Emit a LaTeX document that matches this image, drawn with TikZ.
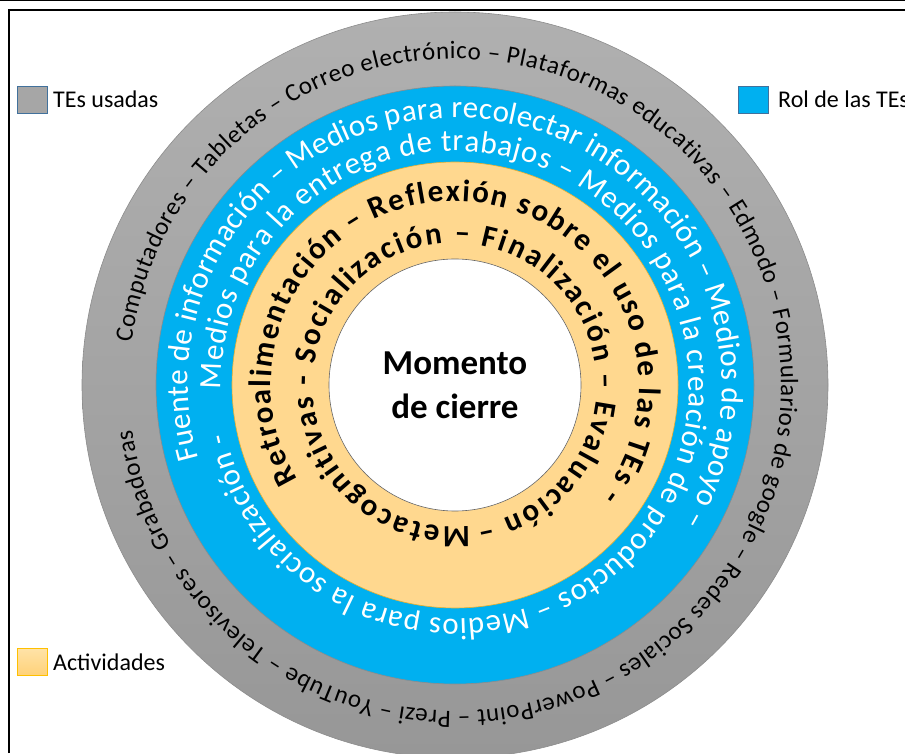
\documentclass[tikz,border=0pt]{standalone}
\usepackage{fontspec}
\setmainfont{Carlito}
\usetikzlibrary{decorations.text}
\definecolor{grayTop}{HTML}{B0B0B0}
\definecolor{grayBot}{HTML}{979797}
\definecolor{grayEdge}{HTML}{8C8C8C}
\definecolor{legGray}{HTML}{A6A6A6}
\definecolor{ringBlue}{HTML}{00B0F0}
\definecolor{ringOrange}{HTML}{FFD88F}
\definecolor{orangeEdge}{HTML}{E8B030}
\definecolor{legendEdge}{HTML}{41719C}
\definecolor{legOrTop}{HTML}{FFE3A8}
\definecolor{legOrBot}{HTML}{FFD27A}
\definecolor{legOrEdge}{HTML}{FFC000}
\tikzset{
  legendbox/.style={minimum width=30pt, minimum height=27pt, inner sep=0pt, line width=0.8pt},
  legendtext/.style={anchor=west, inner sep=0pt, font=\fontsize{24}{24}\selectfont},
  ringpath/.style={decorate, decoration={text along path, text align={fit to path}, #1}}
}
\begin{document}
\begin{tikzpicture}[x=1pt,y=1pt]
\useasboundingbox (0,0) rectangle (905,753);
% frame
\draw[line width=1.2pt] (0,752.5) -- (905,752.5);
\draw[line width=2pt] (9,0) -- (9,743) -- (905,743);
\coordinate (c) at (455,368);
% rings
\shade[top color=grayTop, bottom color=grayBot] (c) circle[radius=373];
\draw[grayEdge, line width=0.6pt] (c) circle[radius=373];
\fill[ringBlue] (c) circle[radius=299];
\draw[grayEdge, line width=0.6pt] (c) circle[radius=299];
\fill[ringOrange] (c) circle[radius=223];
\draw[orangeEdge, line width=0.6pt] (c) circle[radius=223];
\fill[white] (c) circle[radius=126];
\draw[black!60, line width=0.6pt] (c) circle[radius=126];
% gray ring text
\path[ringpath={text={|\fontsize{25}{25}\selectfont|Computadores – Tabletas – Correo electrónico – Plataformas educativas – Edmodo – Formularios de google – Redes Sociales – PowerPoint – Prezi – YouTube – Televisores – Grabadoras}}]
  (c) ++(172.5:326) arc[start angle=172.5, end angle=-172, radius=326];
% blue ring text
\path[ringpath={text color=white, text={|\fontsize{31}{31}\selectfont|Fuente de información – Medios para recolectar información – Medios de apoyo –}}]
  (c) ++(196:267) arc[start angle=196, end angle=-31, radius=267];
\path[ringpath={text color=white, text={|\fontsize{31}{31}\selectfont|Medios para la entrega de trabajos – Medios para la creación de productos – Medios para la socialización -}}]
  (c) ++(181:234) arc[start angle=181, end angle=-168, radius=234];
% orange ring text
\path[ringpath={text={|\bfseries\fontsize{31}{31}\selectfont|Retroalimentación – Reflexión sobre el uso de las TEs -}}]
  (c) ++(211:184) arc[start angle=211, end angle=-37, radius=184];
\path[ringpath={text={|\bfseries\fontsize{31}{31}\selectfont|Metacognitivas - Socialización – Finalización – Evaluación –}}]
  (c) ++(276:142) arc[start angle=276, end angle=-81, radius=142];
% center
\node[align=center, font=\bfseries\fontsize{35}{44}\selectfont, inner sep=0pt] (center) at (c) {Momento\\de cierre};
% legend
\node[legendbox, draw=legendEdge, fill=legGray] (lg1) at (32,653.5) {};
\node[legendtext] (lt1) at (53,654) {TEs usadas};
\node[legendbox, draw=legendEdge, fill=ringBlue] (lg2) at (753.5,653.5) {};
\node[legendtext] (lt2) at (778,654) {Rol de las TEs};
\node[legendbox, draw=legOrEdge, top color=legOrTop, bottom color=legOrBot] (lg3) at (32.5,91.5) {};
\node[legendtext] (lt3) at (53,91) {Actividades};
\end{tikzpicture}
\end{document}
